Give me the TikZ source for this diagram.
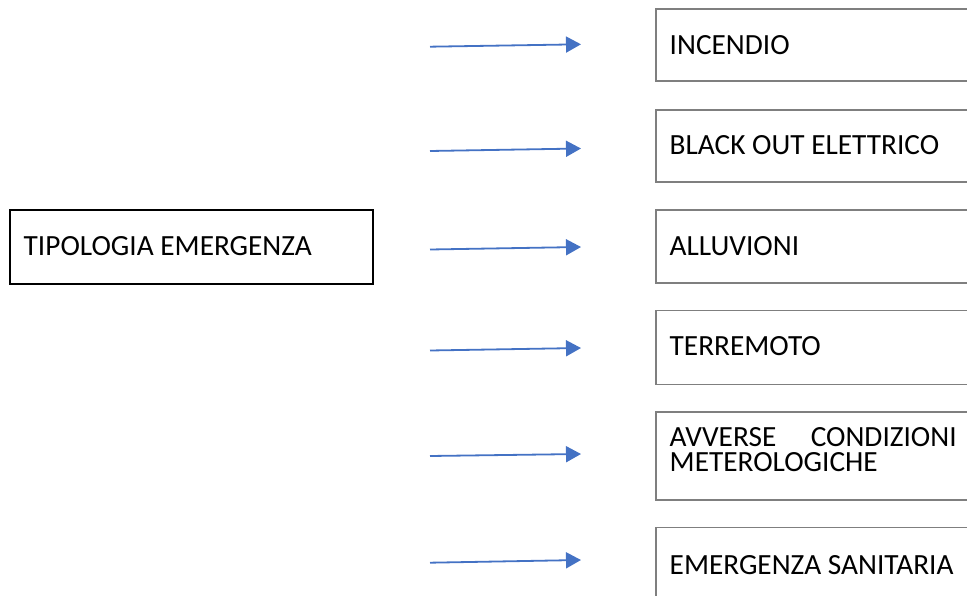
\documentclass[tikz,border=0pt]{standalone}
\usepackage{fontspec}
\setmainfont{Carlito}
\usetikzlibrary{arrows.meta}
\definecolor{arrowblue}{HTML}{4472C4}
\definecolor{boxgray}{HTML}{7F7F7F}
\begin{document}
\begin{tikzpicture}[x=1pt,y=-1pt,
  lbox/.style={draw=black,line width=1.6pt,anchor=north west,inner sep=0pt},
  rbox/.style={draw=boxgray,line width=1.6pt,anchor=north west,inner sep=0pt,minimum width=330pt},
  txt/.style={anchor=base west,inner sep=0pt,font=\fontsize{29.3}{25}\selectfont},
  arr/.style={draw=arrowblue,line width=1.8pt,-{Triangle[length=15pt,width=16pt]}}]
\useasboundingbox (0,0) rectangle (967,596);
\clip (0,0) rectangle (967,596);
% left box
\node[lbox,minimum width=363pt,minimum height=74pt] (src) at (9,209) {};
\node[txt] (srct) at (23.5,256) {TIPOLOGIA EMERGENZA};
% right boxes
\node[rbox,minimum height=72pt] (b1) at (655,8.5) {};
\node[txt] (t1) at (669.5,55) {INCENDIO};
\node[rbox,minimum height=72pt] (b2) at (655,109) {};
\node[txt] (t2) at (669.5,154.5) {BLACK OUT ELETTRICO};
\node[rbox,minimum height=73pt] (b3) at (655,209) {};
\node[txt] (t3) at (669.5,255.5) {ALLUVIONI};
\node[rbox,minimum height=74pt] (b4) at (655,309.5) {};
\node[txt] (t4) at (669.5,355.5) {TERREMOTO};
\node[rbox,minimum height=88pt] (b5) at (655,411) {};
\node[txt,text width=287pt,align=left] (t5) at (669.5,446.7) {AVVERSE\hfill CONDIZIONI\\METEROLOGICHE};
\node[rbox,minimum height=90pt] (b6) at (655,526.5) {};
\node[txt] (t6) at (669.5,574) {EMERGENZA SANITARIA};
% arrows
\coordinate (a1s) at (430,46.7); \coordinate (a1e) at (581,44.3);
\coordinate (a2s) at (430,151); \coordinate (a2e) at (581,148.5);
\coordinate (a3s) at (430,249.5); \coordinate (a3e) at (581,247);
\coordinate (a4s) at (430,350.5); \coordinate (a4e) at (581,348);
\coordinate (a5s) at (430,456); \coordinate (a5e) at (581,454);
\coordinate (a6s) at (430,562.7); \coordinate (a6e) at (581,560);
\foreach \i in {1,...,6} { \draw[arr] (a\i s) -- (a\i e); }
\end{tikzpicture}
\end{document}
